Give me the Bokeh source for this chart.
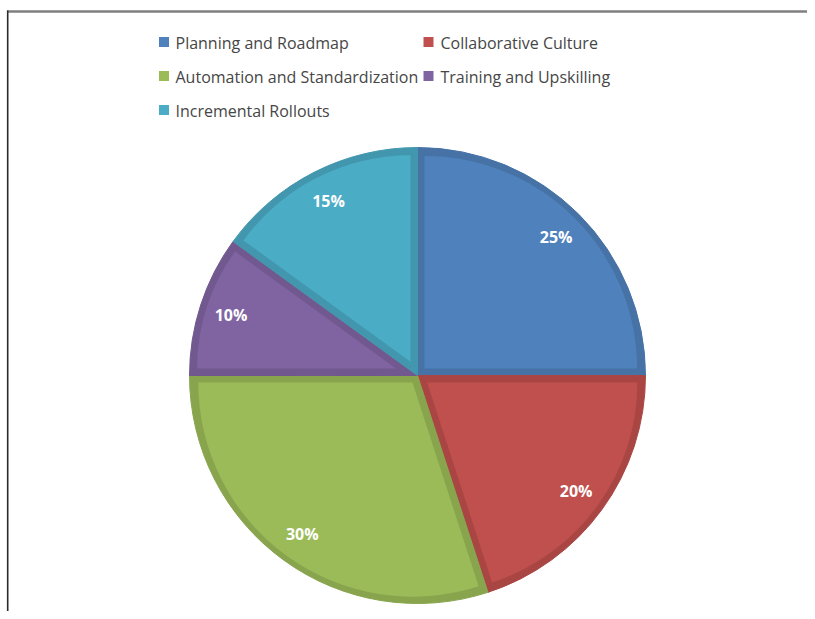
import math
from bokeh.plotting import figure
from bokeh.models import Range1d, ColumnDataSource
from bokeh.core.properties import value
from bokeh.embed import file_html
from bokeh.resources import INLINE

# ---- data ----
categories = ["Planning and Roadmap", "Collaborative Culture",
              "Automation and Standardization", "Training and Upskilling",
              "Incremental Rollouts"]
shares = [25, 20, 30, 10, 15]
pct_labels = ["25%", "20%", "30%", "10%", "15%"]
fill_colors = ["#4F81BD", "#C0504D", "#9BBB59", "#8064A2", "#4BACC6"]
edge_colors = ["#4672A6", "#A94644", "#88A54E", "#71588F", "#4297AE"]

# ---- layout ----
W, H = 807, 611
CX, CY, R = 417, 236, 228        # pie centre / radius (plot units = px)
INSET = 7                        # border thickness of each slice
LABEL_R = 0.86

p = figure(width=W, height=H, x_range=Range1d(0, W), y_range=Range1d(0, H),
           x_axis_type=None, y_axis_type=None, output_backend="svg",
           toolbar_location=None, min_border=0)
p.grid.visible = False
p.outline_line_color = None
p.background_fill_color = "white"
p.border_fill_color = "white"

# frame lines of the original chart area
p.segment(x0=[6.5, 7.2], y0=[600, 0], x1=[W, 7.2], y1=[600, 601],
          line_color=["#7f7f7f", "#2a2a2a"], line_width=[2.5, 1.6])

# ---- pie ----
total = float(sum(shares))
starts, ends, mids = [], [], []
cum = 0.0
for s in shares:
    a0 = math.pi / 2 - 2 * math.pi * (cum + s) / total
    a1 = math.pi / 2 - 2 * math.pi * cum / total
    starts.append(a0)
    ends.append(a1)
    mids.append((a0 + a1) / 2)
    cum += s

outer = ColumnDataSource(dict(start=starts, end=ends, fill=edge_colors))
p.wedge(x=CX, y=CY, radius=R, start_angle="start", end_angle="end",
        fill_color="fill", line_color="fill", line_width=1, source=outer)

ix, iy, ir = [], [], []
for a0, a1, m in zip(starts, ends, mids):
    half = (a1 - a0) / 2
    sft = INSET / math.sin(half)
    ix.append(CX + sft * math.cos(m))
    iy.append(CY + sft * math.sin(m))
    ir.append(R - INSET - sft * (1 + math.cos(half)) / 2)
inner = ColumnDataSource(dict(x=ix, y=iy, r=ir, start=starts, end=ends, fill=fill_colors))
p.wedge(x="x", y="y", radius="r", start_angle="start", end_angle="end",
        fill_color="fill", line_color=None, source=inner)

lx = [CX + LABEL_R * R * math.cos(m) for m in mids]
ly = [CY + LABEL_R * R * math.sin(m) for m in mids]
p.text(x=lx, y=ly, text=pct_labels, text_color="white",
       text_font=value("Open Sans"), text_font_style="bold",
       text_font_size="16px", text_align="center", text_baseline="middle")

# ---- legend (2 columns, row-major) ----
col_marker_x = [163.5, 428]
col_text_x = [175, 440]
row_y = [569, 535, 501]
mx, my, tx, ty = [], [], [], []
for i in range(len(categories)):
    r_, c_ = divmod(i, 2)
    mx.append(col_marker_x[c_]); my.append(row_y[r_] + 0.5)
    tx.append(col_text_x[c_]); ty.append(row_y[r_])
p.scatter(x=mx, y=my, marker="square", size=10, fill_color=fill_colors,
          line_color=None)
p.text(x=tx, y=ty, text=categories, text_color="#464646",
       text_font=value("Open Sans"), text_font_size="16px",
       text_baseline="middle", text_align="left")

open("out.html", "w").write(file_html(p, INLINE))
